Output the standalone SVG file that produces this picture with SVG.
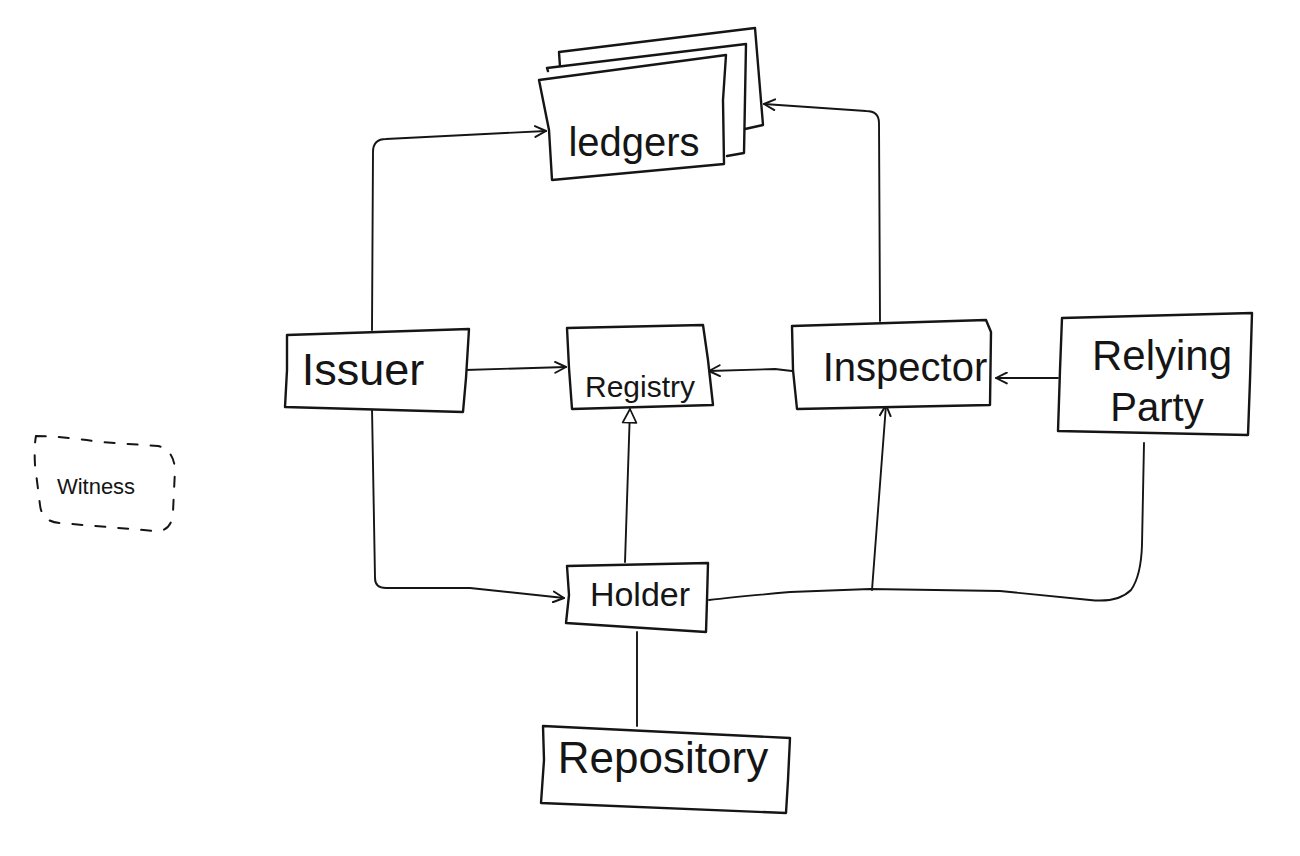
<svg xmlns="http://www.w3.org/2000/svg" width="1300" height="856" viewBox="0 0 1300 856">
<style>
.box{fill:#fff;stroke:#151515;stroke-width:2.4;stroke-linejoin:round;stroke-linecap:round}
.wire{fill:none;stroke:#151515;stroke-width:1.9;stroke-linejoin:round;stroke-linecap:round}
.lbl{font-family:"Liberation Sans","DejaVu Sans",sans-serif;fill:#151515;text-anchor:middle}
.dash{fill:none;stroke:#151515;stroke-width:2;stroke-dasharray:10 13;stroke-linecap:round}
</style>
<defs>
<marker id="open" viewBox="0 0 12 12" refX="11" refY="6" markerWidth="13" markerHeight="13" markerUnits="userSpaceOnUse" orient="auto">
<path d="M1,1 L11,6 L1,11" fill="none" stroke="#151515" stroke-width="1.8" stroke-linecap="round" stroke-linejoin="round"/>
</marker>
<marker id="tri" viewBox="0 0 14 14" refX="13" refY="7" markerWidth="16" markerHeight="24" markerUnits="userSpaceOnUse" orient="auto">
<path d="M1,1 L13,7 L1,13 Z" fill="#fff" stroke="#151515" stroke-width="1.5" stroke-linejoin="round"/>
</marker>
</defs>
<rect width="1300" height="856" fill="#fff"/>

<g id="connectors">
<path class="wire" d="M372,330 L373,152 Q373,139 386,139 L546,131" marker-end="url(#open)"/>
<path class="wire" d="M880,321 L879,123 Q879,111 866,111 L764,104" marker-end="url(#open)"/>
<path class="wire" d="M465,370 L566,367" marker-end="url(#open)"/>
<path class="wire" d="M792,371 L775,369 L709,371" marker-end="url(#open)"/>
<path class="wire" d="M1058,378 L996,378" marker-end="url(#open)"/>
<path class="wire" d="M372,408 L375,578 Q375,588 386,588 L470,588 L564,598" marker-end="url(#open)"/>
<path class="wire" d="M625,562 L630,409" marker-end="url(#tri)"/>
<path class="wire" d="M709,600 Q735,597 790,592 L870,589 L1000,591 L1090,600 Q1118,603 1131,590 Q1141,576 1142,545 L1144,443"/>
<path class="wire" d="M872,590 L886,405" marker-end="url(#open)"/>
<path class="wire" d="M637,632 L637,726"/>
</g>

<g id="ledgers">
<path class="box" d="M560,67 L559,52 L755,28 L763,125 L745,129"/>
<path class="box" d="M548,71 L547,68 L746,44 L744,153 L727,156"/>
<path class="box" d="M539,80 L726,55 L723,100 L724,164 L552,180 L549,130 Z"/>
<text class="lbl" x="634" y="156" font-size="40">ledgers</text>
</g>

<g id="issuer">
<path class="box" d="M287,335 L469,329 L466,378 L463,412 L285,407 L287,370 Z"/>
<text class="lbl" x="363" y="385" font-size="45">Issuer</text>
</g>

<g id="registry">
<path class="box" d="M567,328 L703,325 L708,360 L713,405 L572,409 L569,368 Z"/>
<text class="lbl" x="640" y="397" font-size="30">Registry</text>
</g>

<g id="inspector">
<path class="box" d="M792,326 L986,320 L991,332 L990,405 L797,409 L793,370 Z"/>
<text class="lbl" x="905" y="381" font-size="40">Inspector</text>
</g>

<g id="relying-party">
<path class="box" d="M1062,318 L1252,313 L1250,380 L1248,435 L1058,431 L1060,370 Z"/>
<text class="lbl" x="1162" y="370" font-size="42">Relying</text>
<text class="lbl" x="1157" y="421" font-size="40">Party</text>
</g>

<g id="holder">
<path class="box" d="M567,566 L708,563 L707,600 L706,632 L566,623 L569,595 Z"/>
<text class="lbl" x="640" y="606" font-size="34">Holder</text>
</g>

<g id="repository">
<path class="box" d="M543,726 L790,738 L788,780 L786,813 L541,803 L544,760 Z"/>
<text class="lbl" x="663" y="773" font-size="44">Repository</text>
</g>

<g id="witness">
<path class="dash" d="M36,436 Q60,436 100,442 L158,446 Q174,450 175,470 L173,512 Q172,532 155,531 L60,523 Q42,522 40,505 L35,465 Q34,446 36,436 Z"/>
<text class="lbl" x="96" y="494" font-size="22">Witness</text>
</g>
</svg>
